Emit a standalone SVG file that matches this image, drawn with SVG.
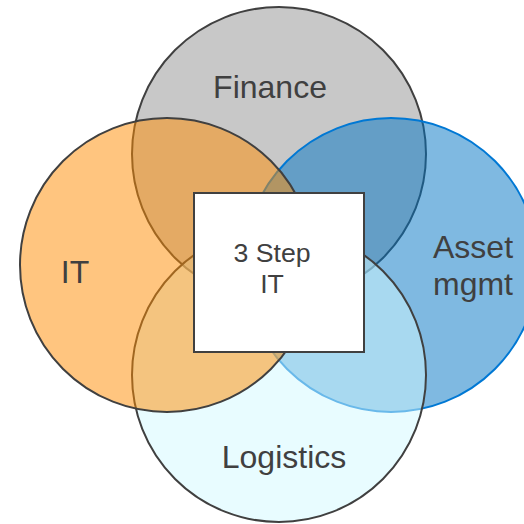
<svg xmlns="http://www.w3.org/2000/svg" width="524" height="524" viewBox="0 0 524 524">
  <style>
    .lbl { font-family: "Liberation Sans", Arial, sans-serif; fill: #404040; text-anchor: middle; }
    .big { font-size: 32px; }
    .mid { font-size: 26.7px; }
  </style>
  <rect width="524" height="524" fill="#ffffff"/>
  <g id="finance">
    <circle cx="279" cy="154" r="147" fill="#c8c8c8" stroke="#404040" stroke-width="2"/>
    <text class="lbl big" x="270" y="98">Finance</text>
  </g>
  <g id="asset-mgmt">
    <circle cx="391" cy="265" r="147" fill="#0073c3" fill-opacity="0.5" stroke="#0078d4" stroke-width="2"/>
    <text class="lbl big" x="473" y="258">Asset</text>
    <text class="lbl big" x="473" y="295">mgmt</text>
  </g>
  <g id="logistics">
    <circle cx="279" cy="375" r="147" fill="#d1f9ff" fill-opacity="0.5" stroke="#404040" stroke-width="2"/>
    <text class="lbl big" x="284" y="468">Logistics</text>
  </g>
  <g id="it">
    <circle cx="167" cy="265" r="147" fill="#ff8c00" fill-opacity="0.5" stroke="#404040" stroke-width="2"/>
    <text class="lbl big" x="75" y="283">IT</text>
  </g>
  <g id="center">
    <rect x="194" y="193" width="170" height="159" fill="#ffffff" stroke="#404040" stroke-width="2"/>
    <text class="lbl mid" x="272" y="262">3 Step</text>
    <text class="lbl mid" x="272" y="293">IT</text>
  </g>
  <g id="connectors"/>
</svg>
